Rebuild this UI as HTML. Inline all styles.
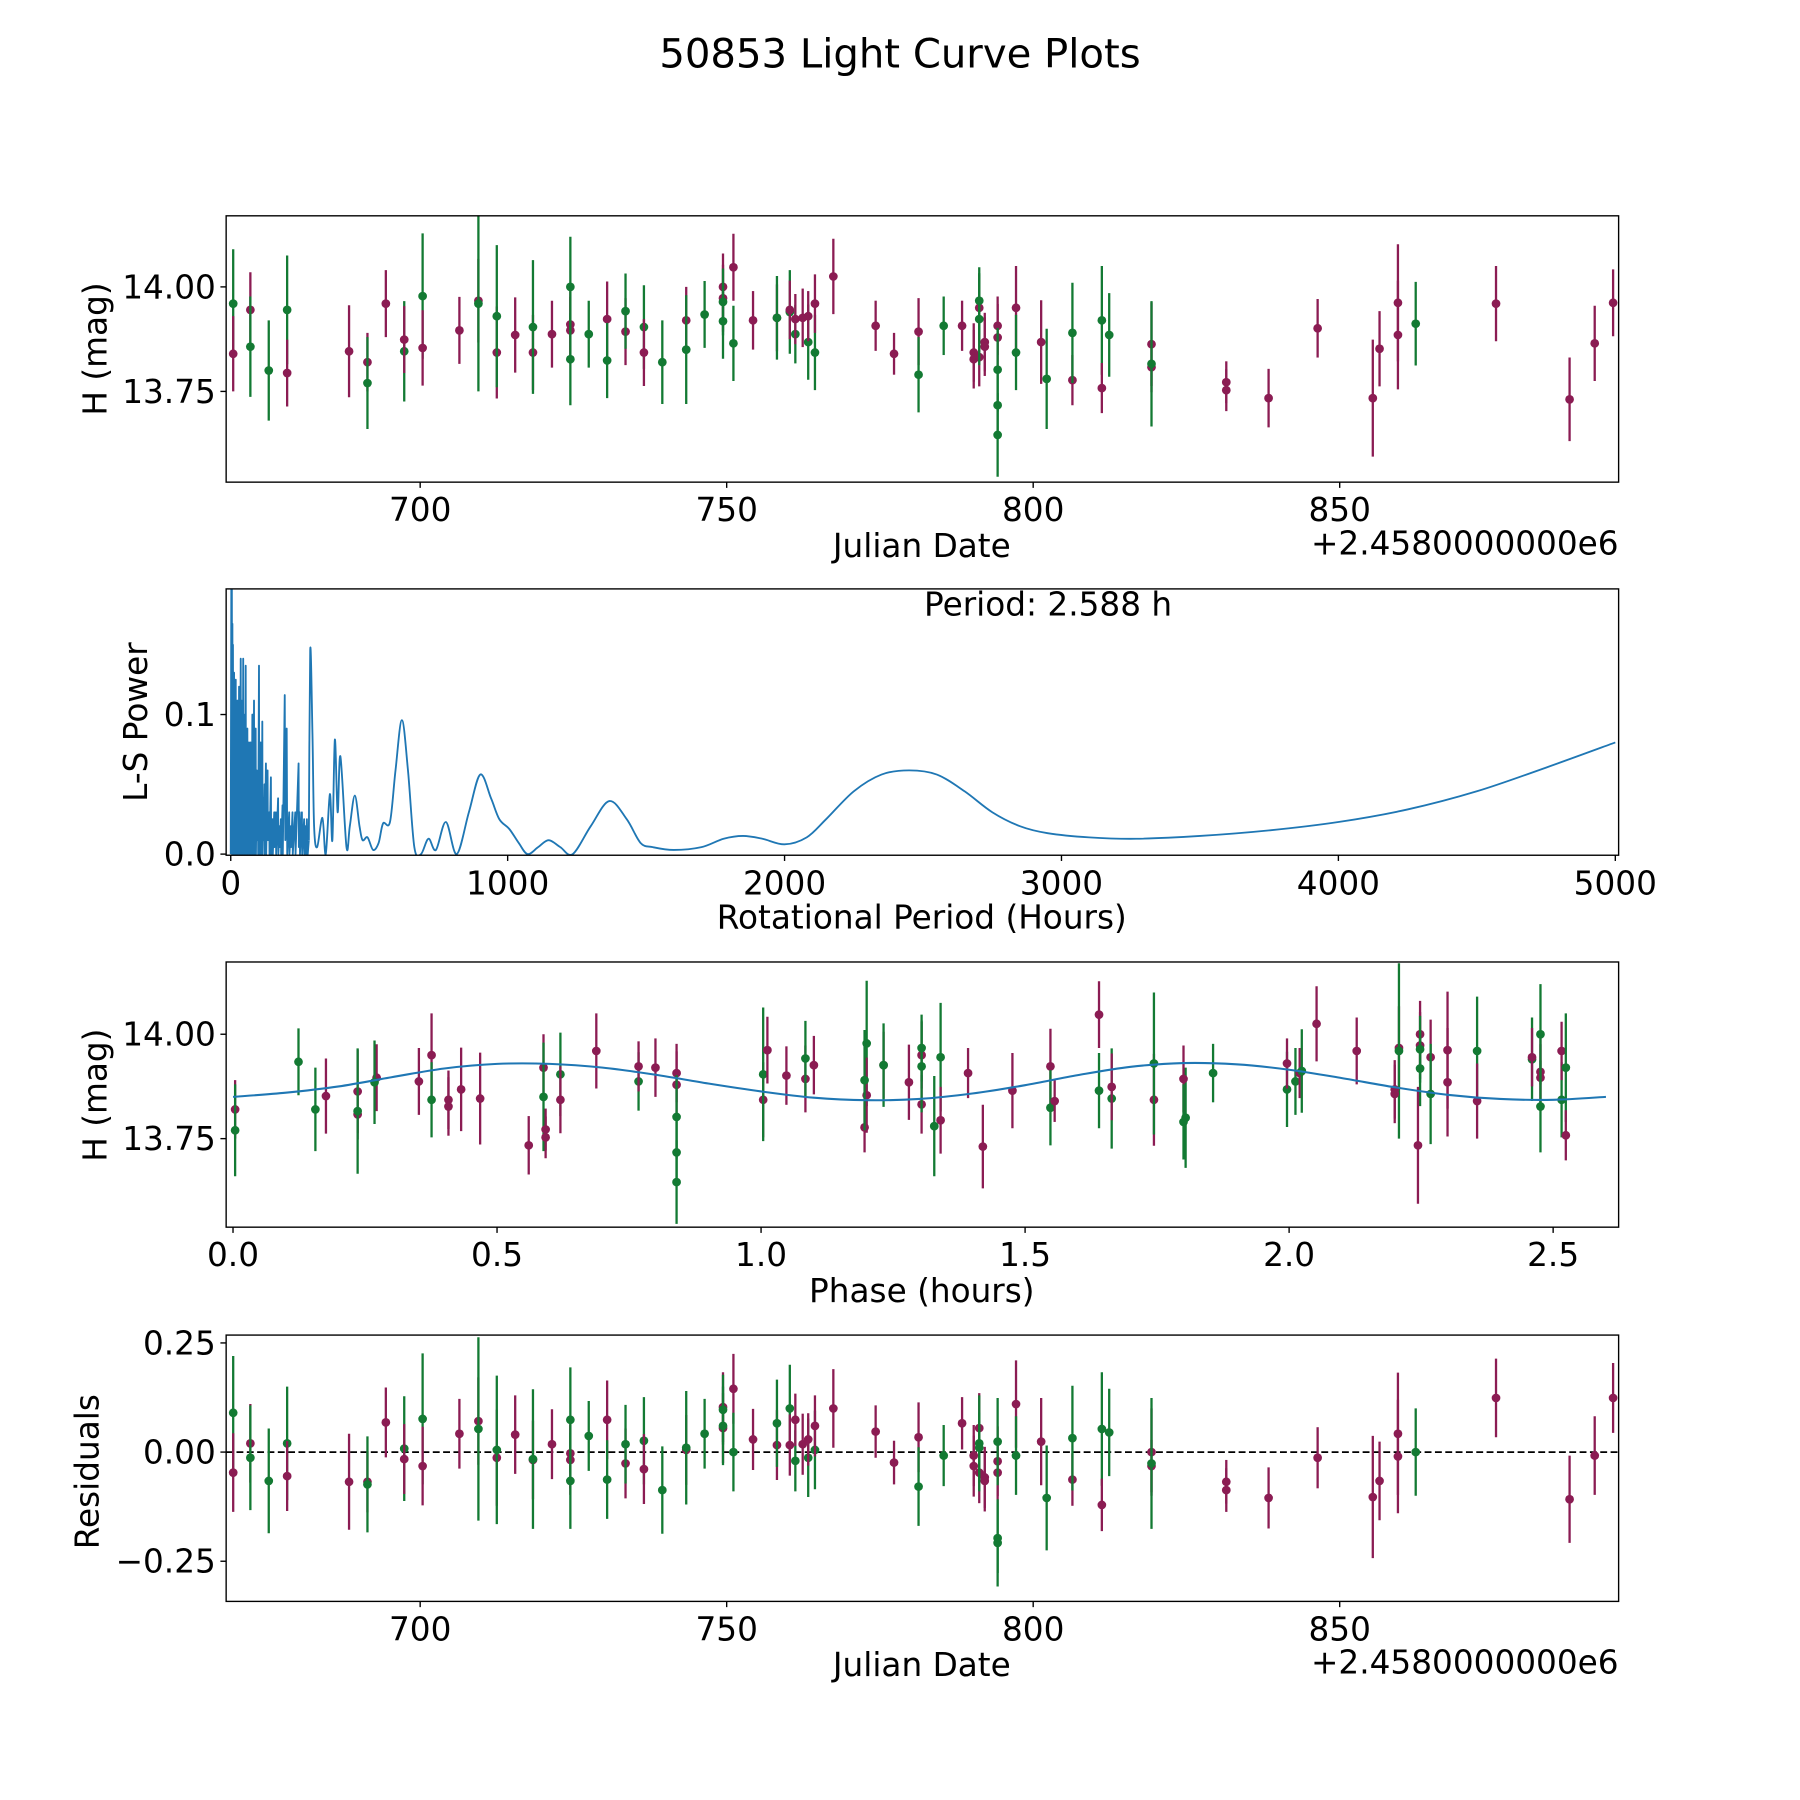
<!DOCTYPE html>
<html><head><meta charset="utf-8"><title>50853 Light Curve Plots</title>
<style>html,body{margin:0;padding:0;background:#fff}svg{display:block}text{font-family:"DejaVu Sans","Liberation Sans",sans-serif;fill:#000}</style>
</head><body>
<svg id="fig" xmlns="http://www.w3.org/2000/svg" width="1800" height="1800" viewBox="0 0 1568 1568">
<rect width="1568" height="1568" fill="#fff"/>
<text x="784" y="59" font-size="35" text-anchor="middle">50853 Light Curve Plots</text>
<g id="layer"></g>
</svg>
<script>
// ---- light curve data ----
const dates=[669.5,669.5,672.3,672.3,675.3,678.3,678.3,688.4,691.4,691.4,694.4,697.4,697.4,700.4,700.4,706.4,709.5,709.5,712.5,712.5,715.5,718.4,718.4,721.5,724.5,724.5,724.5,724.5,727.5,730.5,730.5,733.5,733.5,736.5,736.5,739.5,743.4,743.4,746.4,749.4,749.4,749.4,749.4,751.1,751.1,754.3,758.2,758.2,760.3,760.3,761.2,761.2,762.4,763.3,763.3,764.4,764.4,767.4,774.3,777.3,781.3,781.3,785.4,788.4,790.3,790.3,791.2,791.2,791.2,791.2,792.1,792.1,794.2,794.2,794.2,794.2,794.2,797.2,797.2,801.3,802.2,806.4,806.4,811.2,811.2,812.4,819.3,819.3,819.3,831.5,831.5,838.4,846.4,855.4,856.5,859.5,859.5,862.4,875.5,887.5,891.6,894.6];
const mags=[13.96,13.84,13.945,13.857,13.80,13.945,13.794,13.846,13.82,13.77,13.96,13.846,13.874,13.978,13.854,13.896,13.967,13.96,13.843,13.93,13.885,13.843,13.904,13.887,13.91,13.896,13.827,14.00,13.887,13.923,13.824,13.893,13.942,13.904,13.843,13.82,13.92,13.85,13.934,14.00,13.973,13.964,13.918,14.047,13.865,13.92,13.926,13.926,13.94,13.945,13.887,13.923,13.926,13.868,13.93,13.843,13.96,14.025,13.907,13.84,13.893,13.79,13.907,13.907,13.843,13.827,13.832,13.95,13.923,13.967,13.868,13.857,13.879,13.907,13.802,13.717,13.646,13.95,13.843,13.868,13.78,13.777,13.89,13.92,13.758,13.885,13.863,13.808,13.816,13.772,13.753,13.734,13.901,13.734,13.852,13.962,13.885,13.912,13.96,13.731,13.865,13.962];
const errs=[0.13,0.09,0.09,0.12,0.12,0.13,0.08,0.11,0.07,0.11,0.08,0.12,0.08,0.15,0.09,0.08,0.10,0.21,0.11,0.17,0.09,0.09,0.16,0.08,0.08,0.08,0.11,0.12,0.08,0.09,0.09,0.08,0.09,0.10,0.08,0.10,0.08,0.13,0.08,0.08,0.08,0.08,0.09,0.08,0.09,0.07,0.08,0.10,0.10,0.07,0.07,0.06,0.07,0.09,0.06,0.09,0.07,0.09,0.06,0.05,0.08,0.09,0.07,0.06,0.07,0.07,0.07,0.08,0.11,0.08,0.07,0.07,0.08,0.07,0.10,0.08,0.10,0.10,0.09,0.10,0.12,0.06,0.12,0.13,0.06,0.10,0.10,0.06,0.15,0.05,0.05,0.07,0.07,0.14,0.09,0.14,0.13,0.10,0.09,0.10,0.09,0.08];
const filters=[1,0,0,1,1,1,0,0,0,1,0,1,0,1,0,0,0,1,0,1,0,0,1,0,0,0,1,1,1,0,1,0,1,1,0,1,0,1,1,0,0,1,1,0,1,0,0,1,1,0,1,0,0,1,0,1,0,0,0,0,0,1,1,0,0,0,0,0,1,1,0,0,0,0,1,1,1,0,1,0,1,0,1,1,0,1,0,0,1,0,0,0,0,0,0,0,0,1,0,0,0,0];
const resid=[0.09,-0.047,0.02,-0.013,-0.066,0.02,-0.055,-0.068,-0.068,-0.074,0.068,0.008,-0.016,0.076,-0.032,0.042,0.071,0.053,-0.013,0.005,0.04,-0.018,-0.016,0.018,-0.003,-0.018,-0.066,0.074,0.037,0.074,-0.063,-0.026,0.018,0.026,-0.039,-0.087,0.005,0.01,0.042,0.103,0.055,0.097,0.06,0.145,0,0.029,0.016,0.066,0.1,0.016,-0.02,0.074,0.018,-0.013,0.029,0.005,0.06,0.1,0.047,-0.024,0.034,-0.079,-0.008,0.066,-0.032,-0.008,-0.047,0.055,0.02,0.01,-0.058,-0.066,-0.021,-0.047,0.024,-0.197,-0.208,0.11,-0.008,0.024,-0.105,-0.063,0.032,0.053,-0.121,0.045,0,-0.032,-0.026,-0.068,-0.087,-0.105,-0.013,-0.103,-0.066,0.042,-0.01,0,0.124,-0.108,-0.008,0.124];
const foldPeriodHours=2.588;
// ---- model curve (phase, mag) ----
const modelPhase=[0,0.1,0.2,0.3,0.4,0.5,0.6,0.7,0.8,0.9,1.0,1.1,1.2,1.3,1.4,1.5,1.6,1.7,1.8,1.9,2.0,2.1,2.2,2.3,2.4,2.5,2.6];
const modelMag=[13.85,13.86,13.875,13.897,13.918,13.929,13.929,13.92,13.903,13.882,13.863,13.848,13.842,13.845,13.858,13.878,13.902,13.922,13.931,13.928,13.915,13.895,13.873,13.855,13.845,13.843,13.85];
// ---- periodogram: noisy short-period part ----
const pgNoisyPeriod=[0,2,3,4,5,6,7,8,9,10,11,12,13,14,15,16,17,18,19,20,21,22,23,24,25,27,28,30,31,33,34,36,37,39,40,42,43,45,46,48,49,51,52,54,55,57,58,60,61,63,64,66,67,69,70,72,73,75,76,78,79,81,82,84,85,87,88,90,91,94,95,98,99,102,103,105,106,108,109,111,112,114,115,118,119,122,123,127,128,133,134,139,140,145,146,151,152,157,158,163,164,171,172,176,177,181,182,187,188,195,197,202,204,211,212,217,218,223,224,233,234,245,246,249,250,257,258,265,266,270,272,275,278,282];
const pgNoisyPower=[0,0.19,0.02,0.19,0,0.165,0.01,0.15,0,0.12,0.02,0.13,0,0.11,0.01,0.12,0,0.125,0.02,0.09,0,0.10,0.01,0.11,0,0.09,0.01,0.12,0,0.10,0.02,0.14,0,0.11,0.01,0.09,0,0.14,0.01,0.08,0,0.10,0.02,0.135,0,0.07,0.01,0.09,0,0.06,0.01,0.08,0,0.05,0.01,0.08,0,0.06,0.01,0.10,0,0.07,0.01,0.11,0,0.05,0.01,0.09,0,0.06,0.01,0.05,0,0.135,0,0.04,0.01,0.08,0,0.05,0.01,0.095,0,0.04,0.01,0.05,0,0.065,0,0.06,0.01,0.03,0,0.055,0,0.025,0,0.03,0.005,0.03,0,0.04,0,0.02,0.005,0.025,0,0.035,0,0.114,0.01,0.09,0,0.03,0,0.02,0.005,0.03,0,0.03,0,0.065,0.005,0.03,0,0.03,0,0.025,0,0.02,0,0.025,0,0.01];
// ---- periodogram: smooth long-period part ----
const pgSmoothPeriod=[282,287,295,301,312,331,343,358,367,376,386,396,418,430,448,465,476,494,514,534,550,575,595,618,640,663,687,714,741,777,816,860,901,940,970,1006,1040,1072,1110,1148,1190,1235,1300,1367,1430,1480,1524,1600,1700,1780,1850,1920,2000,2080,2150,2250,2350,2450,2550,2650,2750,2850,2950,3100,3270,3500,3750,4000,4250,4500,4750,5000];
const pgSmoothPower=[0.01,0.146,0.087,0.02,0.005,0.026,0,0.043,0.01,0.082,0.03,0.07,0.005,0.02,0.042,0.02,0.01,0.012,0.003,0.008,0.022,0.023,0.06,0.096,0.06,0.005,0,0.011,0.003,0.023,0,0.03,0.057,0.04,0.025,0.018,0.008,0,0.005,0.01,0.005,0,0.02,0.038,0.025,0.008,0.005,0.003,0.005,0.011,0.013,0.011,0.007,0.012,0.025,0.045,0.057,0.06,0.057,0.045,0.03,0.02,0.015,0.012,0.011,0.013,0.017,0.023,0.032,0.045,0.062,0.08];
const yTicksMag=[13.75,14.00], yTicksMagLabels=["13.75","14.00"];
const xTicksJD=[700,750,800,850], xTicksJDLabels=["700","750","800","850"];
const xTicksPG=[0,1000,2000,3000,4000,5000], xTicksPGLabels=["0","1000","2000","3000","4000","5000"];
const yTicksPG=[0,0.1], yTicksPGLabels=["0.0","0.1"];
const xTicksPh=[0,0.5,1,1.5,2,2.5], xTicksPhLabels=["0.0","0.5","1.0","1.5","2.0","2.5"];
const yTicksRes=[-0.25,0,0.25], yTicksResLabels=["\u22120.25","0.00","0.25"];

const NS="http://www.w3.org/2000/svg";
const layer=document.getElementById('layer');
const COL=["#8b1c53","#137a33"];
const FS=28.5;
function mk(tag,attrs,parent){const e=document.createElementNS(NS,tag);for(const k in attrs)e.setAttribute(k,attrs[k]);(parent||layer).appendChild(e);return e;}
function scale(d0,d1,r0,r1){return v=>r0+(v-d0)/(d1-d0)*(r1-r0);}

function panel(id,x0,x1,y0,y1,xmin,xmax,ymin,ymax){
  const g=mk('g',{});
  
  
  const cp=mk('clipPath',{id:'clip-'+id},g);
  mk('rect',{x:x0,y:y0,width:x1-x0,height:y1-y0},cp);
  const plot=mk('g',{'clip-path':'url(#clip-'+id+')'},g);
  
  
  return {g,plot,x0,x1,y0,y1,sx:scale(xmin,xmax,x0,x1),sy:scale(ymin,ymax,y1,y0)};
}
function frame(p,name){
  const r=mk('rect',{x:p.x0,y:p.y0,width:p.x1-p.x0,height:p.y1-p.y0,fill:'none',stroke:'#000','stroke-width':1.2},p.g);
  
  
}
function xticks(p,vals,labels,name){
  vals.forEach((v,i)=>{const x=p.sx(v);
    mk('line',{x1:x,x2:x,y1:p.y1,y2:p.y1+5,stroke:'#000','stroke-width':1.2},p.g);
    const t=mk('text',{x:x,y:p.y1+34,'font-size':FS,'text-anchor':'middle'},p.g);
    
    
    t.textContent=labels[i];});
}
function yticks(p,vals,labels,name){
  vals.forEach((v,i)=>{const y=p.sy(v);
    mk('line',{x1:p.x0-5,x2:p.x0,y1:y,y2:y,stroke:'#000','stroke-width':1.2},p.g);
    const t=mk('text',{x:p.x0-9,y:y+10,'font-size':FS,'text-anchor':'end'},p.g);
    
    
    t.textContent=labels[i];});
}
function label(p,txt,x,y,rot,name,anchor){
  const t=mk('text',{x:x,y:y,'font-size':FS,'text-anchor':anchor||'middle'},p.g);
  if(rot)t.setAttribute('transform','rotate(-90 '+x+' '+y+')');
  
  
  t.textContent=txt;
}
function errpoints(p,xs,ys,es,name){
  xs.forEach((xv,i)=>{const x=p.sx(xv),c=COL[filters[i]];
    const l=mk('line',{x1:x,x2:x,y1:p.sy(ys[i]-es[i]),y2:p.sy(ys[i]+es[i]),stroke:c,'stroke-width':2},p.plot);
    
    
    const m=mk('circle',{cx:x,cy:p.sy(ys[i]),r:3.8,fill:c},p.plot);
    
    
  });
}
function smoothPath(pts){
  let d='M'+pts[0][0].toFixed(2)+','+pts[0][1].toFixed(2);
  for(let i=0;i<pts.length-1;i++){
    const p0=pts[Math.max(0,i-1)],p1=pts[i],p2=pts[i+1],p3=pts[Math.min(pts.length-1,i+2)];
    const c1x=p1[0]+(p2[0]-p0[0])/6,c1y=p1[1]+(p2[1]-p0[1])/6;
    const c2x=p2[0]-(p3[0]-p1[0])/6,c2y=p2[1]-(p3[1]-p1[1])/6;
    d+=' C'+c1x.toFixed(2)+','+c1y.toFixed(2)+' '+c2x.toFixed(2)+','+c2y.toFixed(2)+' '+p2[0].toFixed(2)+','+p2[1].toFixed(2);
  }
  return d;
}

// Panel 1: light curve
const p1=panel('light-curve',197,1410,188,420,668.35,895.5,13.533,14.170);
errpoints(p1,dates,mags,errs,'light-curve');
frame(p1,'light-curve');xticks(p1,xTicksJD,xTicksJDLabels,'light-curve');yticks(p1,yTicksMag,yTicksMagLabels,'light-curve');
label(p1,'H (mag)',93,304,true,'light-curve-y-axis-title');
label(p1,'Julian Date',803,485,false,'light-curve-x-axis-title');
label(p1,'+2.4580000000e6',1410,483,false,'light-curve-offset-text','end');

// Panel 2: periodogram
const p2=panel('periodogram',197,1410,513,745,-16.6,5012,-0.0008,0.19);
const pl=mk('polyline',{points:pgNoisyPeriod.map((v,i)=>p2.sx(v).toFixed(2)+','+p2.sy(pgNoisyPower[i]).toFixed(2)).join(' '),fill:'none',stroke:'#1f77b4','stroke-width':1.6,'stroke-linejoin':'round'},p2.plot);


const sp=mk('path',{d:smoothPath(pgSmoothPeriod.map((v,i)=>[p2.sx(v),p2.sy(pgSmoothPower[i])])),fill:'none',stroke:'#1f77b4','stroke-width':1.6},p2.plot);


frame(p2,'periodogram');xticks(p2,xTicksPG,xTicksPGLabels,'periodogram');yticks(p2,yTicksPG,yTicksPGLabels,'periodogram');
label(p2,'L-S Power',128,629,true,'periodogram-y-axis-title');
label(p2,'Rotational Period (Hours)',803,809,false,'periodogram-x-axis-title');
label(p2,'Period: '+foldPeriodHours.toFixed(3)+' h',913,536,false,'period-annotation');

// Panel 3: phased
const p3=panel('phased',197,1410,838,1069,-0.013,2.624,13.538,14.173);
const phases=dates.map(d=>(((d-668)*24)%foldPeriodHours+foldPeriodHours)%foldPeriodHours);
errpoints(p3,phases,mags,errs,'phased');
const ml=mk('path',{d:smoothPath(modelPhase.map((v,i)=>[p3.sx(v),p3.sy(modelMag[i])])),fill:'none',stroke:'#1f77b4','stroke-width':1.8},p3.plot);


frame(p3,'phased');xticks(p3,xTicksPh,xTicksPhLabels,'phased');yticks(p3,yTicksMag,yTicksMagLabels,'phased');
label(p3,'H (mag)',93,954,true,'phased-y-axis-title');
label(p3,'Phase (hours)',803,1134,false,'phased-x-axis-title');

// Panel 4: residuals
const p4=panel('residuals',197,1410,1163,1395,668.35,895.5,-0.342,0.268);
const zl=mk('line',{x1:p4.x0,x2:p4.x1,y1:p4.sy(0),y2:p4.sy(0),stroke:'#000','stroke-width':1.5,'stroke-dasharray':'6,3'},p4.plot);


errpoints(p4,dates,resid,errs,'residuals');
frame(p4,'residuals');xticks(p4,xTicksJD,xTicksJDLabels,'residuals');yticks(p4,yTicksRes,yTicksResLabels,'residuals');
label(p4,'Residuals',86,1282,true,'residuals-y-axis-title');
label(p4,'Julian Date',803,1460,false,'residuals-x-axis-title');
label(p4,'+2.4580000000e6',1410,1458,false,'residuals-offset-text','end');
</script>
</body></html>
